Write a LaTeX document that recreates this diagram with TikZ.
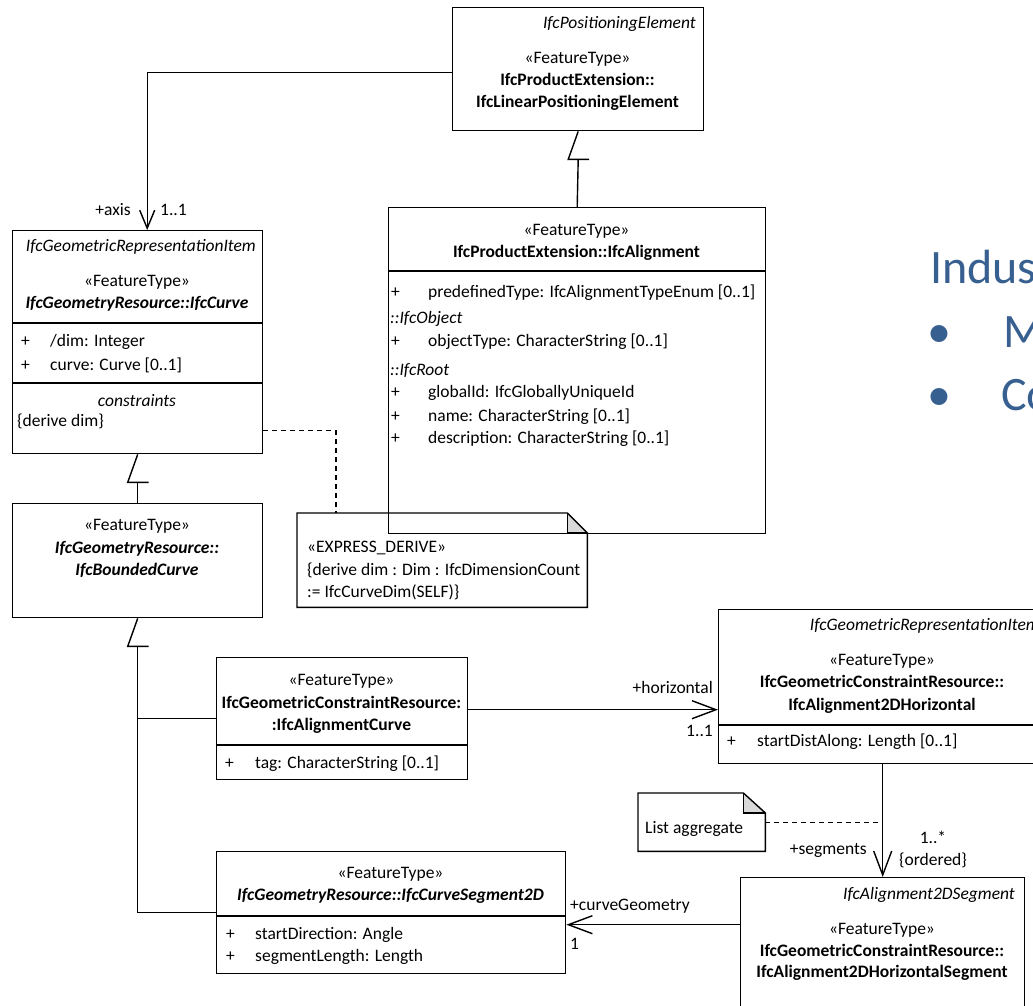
\documentclass[tikz,border=0pt]{standalone}
\usepackage{fontspec}
\setmainfont{Carlito}
\usetikzlibrary{arrows.meta,calc}
\definecolor{slideblue}{RGB}{55,96,145}
\definecolor{foldgrey}{RGB}{217,217,217}
\tikzset{
  umlbox/.style={draw, line width=1.4pt, rectangle, inner sep=0pt, anchor=north west},
  notearea/.style={rectangle, inner sep=0pt, anchor=north west},
  sepline/.style={line width=1.4pt},
  txt/.style={inner sep=0pt, yshift=-1.5pt, font=\fontsize{17.5}{21}\selectfont},
  tc/.style={txt, anchor=mid},
  tl/.style={txt, anchor=mid west},
  tr/.style={txt, anchor=mid east},
  link/.style={line width=1.4pt},
  assoc/.style={line width=1.4pt, -{Straight Barb[length=24pt,width=18pt,line width=1.4pt]}},
  assocsmall/.style={line width=1.4pt, -{Straight Barb[length=18pt,width=15pt,line width=1.4pt]}},
  notelink/.style={line width=1.4pt, dash pattern=on 5pt off 4pt},
  bigtxt/.style={inner sep=0pt, anchor=base west, text=slideblue, font=\fontsize{48}{56}\selectfont},
}
\newcommand{\gentri}[1]{\draw[link] (#1) -- ++(-10,28) -- ++(21,0);}
\begin{document}
\begin{tikzpicture}[x=1pt, y=-1pt]
\useasboundingbox (0,0) rectangle (1033,1006);
\clip (0,0) rectangle (1033,1006);
\fill[white] (0,0) rectangle (1033,1006);

% ---------- class boxes ----------
\node[umlbox, minimum width=251pt, minimum height=123pt] (lpe) at (452,7) {};
\node[umlbox, minimum width=377pt, minimum height=326pt] (align) at (388,207) {};
\node[umlbox, minimum width=250pt, minimum height=223pt] (curve) at (12,230) {};
\node[umlbox, minimum width=250pt, minimum height=114pt] (bounded) at (12,503) {};
\node[umlbox, minimum width=251pt, minimum height=122pt] (acurve) at (216,657) {};
\node[umlbox, minimum width=328pt, minimum height=154pt] (horiz) at (718,609) {};
\node[umlbox, minimum width=349pt, minimum height=122pt] (cseg) at (216,851) {};
\node[umlbox, minimum width=284pt, minimum height=143pt] (seg) at (740,877) {};

% compartment separators
\draw[sepline] (align.west |- 0,271) -- (align.east |- 0,271);
\draw[sepline] (curve.west |- 0,323) -- (curve.east |- 0,323);
\draw[sepline] (curve.west |- 0,383) -- (curve.east |- 0,383);
\draw[sepline] (acurve.west |- 0,745) -- (acurve.east |- 0,745);
\draw[sepline] (horiz.west |- 0,725) -- (horiz.east |- 0,725);
\draw[sepline] (cseg.west |- 0,916) -- (cseg.east |- 0,916);

% ---------- texts of IfcLinearPositioningElement ----------
\node[tr] (lpe-super) at (696,25) {\itshape IfcPositioningElement};
\node[tc] (lpe-st) at (577.5,60) {«FeatureType»};
\node[tc] (lpe-n1) at (577.5,82) {\bfseries IfcProductExtension::};
\node[tc] (lpe-n2) at (577.5,104) {\bfseries IfcLinearPositioningElement};

% ---------- texts of IfcAlignment ----------
\node[tc] (al-st) at (576.5,232) {«FeatureType»};
\node[tc] (al-n) at (576.5,254) {\bfseries IfcProductExtension::IfcAlignment};
\node[tl] (al-p1) at (391,294) {+};
\node[tl] (al-a1) at (428,294) {predefinedType: IfcAlignmentTypeEnum [0..1]};
\node[tl] (al-g1) at (390,320) {\itshape ::IfcObject};
\node[tl] (al-p2) at (391,343) {+};
\node[tl] (al-a2) at (428,343) {objectType: CharacterString [0..1]};
\node[tl] (al-g2) at (390,372) {\itshape ::IfcRoot};
\node[tl] (al-p3) at (391,394) {+};
\node[tl] (al-a3) at (428,394) {globalId: IfcGloballyUniqueId};
\node[tl] (al-p4) at (391,418) {+};
\node[tl] (al-a4) at (428,418) {name: CharacterString [0..1]};
\node[tl] (al-p5) at (391,440) {+};
\node[tl] (al-a5) at (428,440) {description: CharacterString [0..1]};

% ---------- texts of IfcCurve ----------
\node[tr] (cu-super) at (256,248) {\itshape IfcGeometricRepresentationItem};
\node[tc] (cu-st) at (137,283) {«FeatureType»};
\node[tc] (cu-n) at (137,305) {\bfseries\itshape IfcGeometryResource::IfcCurve};
\node[tl] (cu-p1) at (21,343) {+};
\node[tl] (cu-a1) at (50,343) {/dim: Integer};
\node[tl] (cu-p2) at (21,367) {+};
\node[tl] (cu-a2) at (50,367) {curve: Curve [0..1]};
\node[tc] (cu-ch) at (137,403) {\itshape constraints};
\node[tl] (cu-c1) at (17,423) {\{derive dim\}};

% ---------- texts of IfcBoundedCurve ----------
\node[tc] (bc-st) at (137,527) {«FeatureType»};
\node[tc] (bc-n1) at (137,550) {\bfseries\itshape IfcGeometryResource::};
\node[tc] (bc-n2) at (137,572) {\bfseries\itshape IfcBoundedCurve};

% ---------- texts of IfcAlignmentCurve ----------
\node[tc] (ac-st) at (341.5,682) {«FeatureType»};
\node[tc] (ac-n1) at (341.5,705) {\bfseries IfcGeometricConstraintResource:};
\node[tc] (ac-n2) at (341.5,727) {\bfseries :IfcAlignmentCurve};
\node[tl] (ac-p1) at (225,765) {+};
\node[tl] (ac-a1) at (255,765) {tag: CharacterString [0..1]};

% ---------- texts of IfcAlignment2DHorizontal ----------
\node[tr] (ho-super) at (1040,627) {\itshape IfcGeometricRepresentationItem};
\node[tc] (ho-st) at (882,662) {«FeatureType»};
\node[tc] (ho-n1) at (882,684) {\bfseries IfcGeometricConstraintResource::};
\node[tc] (ho-n2) at (882,707) {\bfseries IfcAlignment2DHorizontal};
\node[tl] (ho-p1) at (727,743) {+};
\node[tl] (ho-a1) at (757,743) {startDistAlong: Length [0..1]};

% ---------- texts of IfcCurveSegment2D ----------
\node[tc] (cs-st) at (390.5,875) {«FeatureType»};
\node[tc] (cs-n) at (390.5,897) {\bfseries\itshape IfcGeometryResource::IfcCurveSegment2D};
\node[tl] (cs-p1) at (226,936) {+};
\node[tl] (cs-a1) at (255,936) {startDirection: Angle};
\node[tl] (cs-p2) at (226,958) {+};
\node[tl] (cs-a2) at (255,958) {segmentLength: Length};

% ---------- texts of IfcAlignment2DHorizontalSegment ----------
\node[tr] (sg-super) at (1015,896) {\itshape IfcAlignment2DSegment};
\node[tc] (sg-st) at (882,931) {«FeatureType»};
\node[tc] (sg-n1) at (882,953) {\bfseries IfcGeometricConstraintResource::};
\node[tc] (sg-n2) at (882,974) {\bfseries IfcAlignment2DHorizontalSegment};

% ---------- notes ----------
\node[notearea, minimum width=290pt, minimum height=94pt] (xnote) at (297,513) {};
\fill[foldgrey] ($(xnote.north east)+(-20,0)$) -- ($(xnote.north east)+(0,20)$) -- ($(xnote.north east)+(-20,20)$) -- cycle;
\draw[link] (xnote.north west) -- ($(xnote.north east)+(-20,0)$) -- ($(xnote.north east)+(0,20)$) -- (xnote.south east) -- (xnote.south west) -- cycle;
\draw[link] ($(xnote.north east)+(-20,0)$) -- ($(xnote.north east)+(-20,20)$) -- ($(xnote.north east)+(0,20)$);
\node[tl] (xn-1) at (307,549) {«EXPRESS\_DERIVE»};
\node[tl] (xn-2) at (307,572) {\{derive dim : Dim : IfcDimensionCount};
\node[tl] (xn-3) at (307,594) {:= IfcCurveDim(SELF)\}};

\node[notearea, minimum width=127pt, minimum height=58pt] (lnote) at (638,793) {};
\fill[foldgrey] ($(lnote.north east)+(-22,0)$) -- ($(lnote.north east)+(0,20)$) -- ($(lnote.north east)+(-22,20)$) -- cycle;
\draw[link] (lnote.north west) -- ($(lnote.north east)+(-22,0)$) -- ($(lnote.north east)+(0,20)$) -- (lnote.south east) -- (lnote.south west) -- cycle;
\draw[link] ($(lnote.north east)+(-22,0)$) -- ($(lnote.north east)+(-22,20)$) -- ($(lnote.north east)+(0,20)$);
\node[tl] (ln-1) at (645,830) {List aggregate};

% ---------- generalizations ----------
\gentri{lpe.south}
\draw[link] (align.north) -- ($(lpe.south)+(0,28)$);
\gentri{curve.south}
\draw[link] (bounded.north) -- ($(curve.south)+(0,28)$);
\gentri{bounded.south}
\coordinate (trunkbot) at (bounded.south |- cseg.west);
\draw[link] ($(bounded.south)+(0,28)$) -- (trunkbot) -- (cseg.west);
\draw[link] (acurve.west) -- (acurve.west -| bounded.south);

% ---------- associations ----------
\draw[assocsmall] ([yshift=-3.5pt]lpe.west) -| ([xshift=9.5pt]curve.north);
\node[tr] (lb-axis) at (131,212) {+axis};
\node[tl] (lb-axism) at (160,212) {1..1};

\draw[assoc] ([yshift=9pt]acurve.east) -- ([yshift=9pt]acurve.east -| horiz.west);
\node[tr] (lb-hor) at (713,690) {+horizontal};
\node[tr] (lb-horm) at (713,733) {1..1};

\draw[assoc] (horiz.south) -- (seg.north);
\node[tr] (lb-seg) at (867,851) {+segments};
\node[tc] (lb-segm) at (933,840) {1..*};
\node[tc] (lb-sego) at (933,862) {\{ordered\}};

\draw[assoc] ([yshift=-12pt]cseg.east -| seg.west) -- ([yshift=-12pt]cseg.east);
\node[tl] (lb-cg) at (570,907) {+curveGeometry};
\node[tl] (lb-cgm) at (570,946) {1};

% ---------- note links ----------
\draw[notelink] ([yshift=-88.5pt]curve.east) -| ($(xnote.north west)+(39,0)$);
\draw[notelink] (lnote.east) -- (lnote.east -| horiz.south);

% ---------- slide text ----------
\node[bigtxt] (sl-1) at (930,283) {Indus};
\node[bigtxt] (sl-b1) at (927,347) {•};
\node[bigtxt] (sl-2) at (1003,347) {M};
\node[bigtxt] (sl-b2) at (927,410) {•};
\node[bigtxt] (sl-3) at (1001,410) {Co};
\end{tikzpicture}
\end{document}
